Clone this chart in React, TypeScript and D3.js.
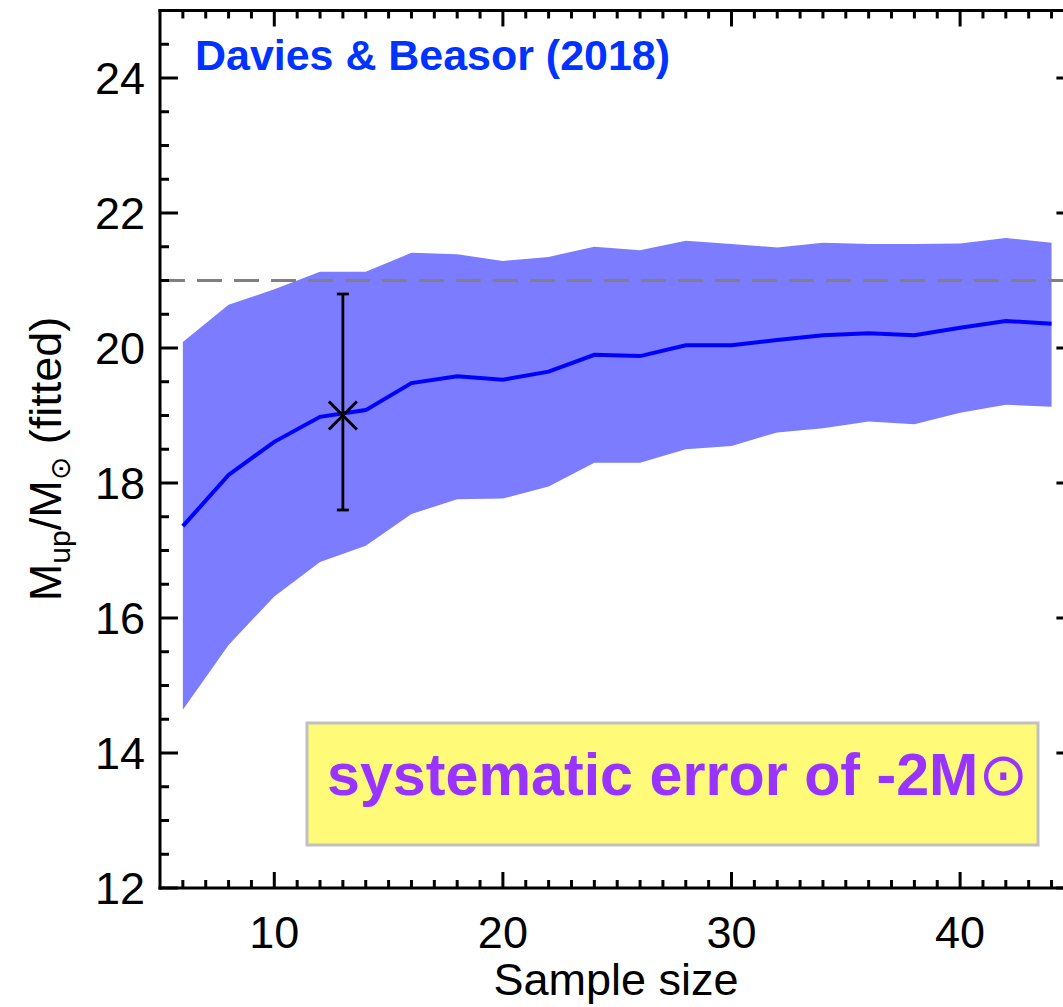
import React from "react";
import * as d3 from "d3";

const sampleSize = [6, 8, 10, 12, 14, 16, 18, 20, 22, 24, 26, 28, 30, 32, 34, 36, 38, 40, 42, 44];
const meanFit = [17.36, 18.12, 18.61, 18.98, 19.08, 19.48, 19.58, 19.53, 19.65, 19.9, 19.88, 20.04, 20.04, 20.12, 20.19, 20.22, 20.19, 20.3, 20.4, 20.36];
const upperFit = [20.09, 20.64, 20.87, 21.13, 21.13, 21.41, 21.39, 21.29, 21.35, 21.5, 21.45, 21.59, 21.54, 21.49, 21.56, 21.54, 21.54, 21.55, 21.63, 21.56];
const lowerFit = [14.64, 15.6, 16.32, 16.83, 17.07, 17.54, 17.76, 17.77, 17.95, 18.3, 18.3, 18.5, 18.55, 18.75, 18.81, 18.91, 18.87, 19.04, 19.16, 19.13];
const obsPoint = { x: 13, y: 19.0, lo: 17.6, hi: 20.8 };
const trueValue = 21;
const xTicks = [10, 20, 30, 40];
const yTicks = [12, 14, 16, 18, 20, 22, 24];

export default function App() {
  const W = 1063, H = 1007;
  const x = d3.scaleLinear().domain([5, 45]).range([160, 1074.4]);
  const y = d3.scaleLinear().domain([12, 25]).range([888, 10.5]);
  const pts = sampleSize.map((s, i) => ({ s, m: meanFit[i], u: upperFit[i], l: lowerFit[i] }));
  const area = d3.area<any>().x(d => x(d.s)).y0(d => y(d.l)).y1(d => y(d.u))(pts) || "";
  const line = d3.line<any>().x(d => x(d.s)).y(d => y(d.m))(pts) || "";
  const minorX = d3.range(6, 45, 1).filter(v => v % 10 !== 0);
  const minorY = d3.range(12.5, 25, 0.5).filter(v => v % 2 !== 0);
  const x0 = x(5), x1 = x(45), yb = y(12), yt = y(25);
  const font = "'Liberation Sans', Arial, Helvetica, sans-serif";
  const px = x(obsPoint.x), py = y(obsPoint.y);
  return (
    <svg width={W} height={H} style={{ position: "absolute", left: 0, top: 0, background: "#fff" }} fontFamily={font}>
      <defs>
        <clipPath id="plotclip">
          <rect x={x0} y={yt} width={x1 - x0} height={yb - yt} />
        </clipPath>
      </defs>
      <g clipPath="url(#plotclip)">
        <path d={area} fill="#7b7cff" />
        <line x1={x0} x2={x1} y1={y(trueValue)} y2={y(trueValue)} stroke="#808080" strokeWidth={3} strokeDasharray="25,12" />
        <path d={line} fill="none" stroke="#0000ff" strokeWidth={4} strokeLinejoin="miter" />
        <g stroke="#000" strokeWidth={2.8}>
          <line x1={px} x2={px} y1={y(obsPoint.lo)} y2={y(obsPoint.hi)} />
          <line x1={px - 6} x2={px + 6} y1={y(obsPoint.lo)} y2={y(obsPoint.lo)} />
          <line x1={px - 6} x2={px + 6} y1={y(obsPoint.hi)} y2={y(obsPoint.hi)} />
        </g>
        <g stroke="#000" strokeWidth={3}>
          <line x1={px - 14} x2={px + 14} y1={py - 14} y2={py + 14} />
          <line x1={px - 14} x2={px + 14} y1={py + 14} y2={py - 14} />
        </g>
      </g>
      <g stroke="#000" strokeWidth={3} fill="none">
        <line x1={x0} x2={x0} y1={yt - 1.5} y2={yb + 1.5} />
        <line x1={x1} x2={x1} y1={yt - 1.5} y2={yb + 1.5} />
        <line x1={x0 - 1.5} x2={x1 + 1.5} y1={yb} y2={yb} />
        <line x1={x0 - 1.5} x2={x1 + 1.5} y1={yt} y2={yt} />
        {xTicks.map(v => (
          <g key={"xt" + v}>
            <line x1={x(v)} x2={x(v)} y1={yb} y2={yb - 16} />
            <line x1={x(v)} x2={x(v)} y1={yt} y2={yt + 16} />
          </g>
        ))}
        {minorX.map(v => (
          <g key={"xm" + v}>
            <line x1={x(v)} x2={x(v)} y1={yb} y2={yb - 8} />
            <line x1={x(v)} x2={x(v)} y1={yt} y2={yt + 8} />
          </g>
        ))}
        {yTicks.map(v => (
          <g key={"yt" + v}>
            <line x1={x0} x2={x0 + 18} y1={y(v)} y2={y(v)} />
            <line x1={x1} x2={x1 - 18} y1={y(v)} y2={y(v)} />
          </g>
        ))}
        {minorY.map(v => (
          <g key={"ym" + v}>
            <line x1={x0} x2={x0 + 9} y1={y(v)} y2={y(v)} />
            <line x1={x1} x2={x1 - 9} y1={y(v)} y2={y(v)} />
          </g>
        ))}
      </g>
      <g fontSize={45} fill="#000">
        {xTicks.map(v => (
          <text key={"xl" + v} x={x(v)} y={948} textAnchor="middle">{v}</text>
        ))}
        {yTicks.map(v => (
          <text key={"yl" + v} x={145} y={y(v) + 16} textAnchor="end">{v}</text>
        ))}
      </g>
      <text x={616} y={995} textAnchor="middle" fontSize={45} fill="#000">Sample size</text>
      <text transform="translate(61,459) rotate(-90)" textAnchor="middle" fontSize={45} fill="#000">
        M<tspan fontSize={30} dy={9}>up</tspan><tspan dy={-9}>/M</tspan><tspan fontSize={28} dy={9} fontFamily="'DejaVu Sans', sans-serif">⊙</tspan><tspan dy={-9}> (fitted)</tspan>
      </text>
      <text x={195} y={70} fontSize={43} fontWeight="bold" fill="#0033ff" textLength={475} lengthAdjust="spacingAndGlyphs">Davies &amp; Beasor (2018)</text>
      <rect x={307} y={723} width={731} height={122} fill="#fffa78" stroke="#c0c0c0" strokeWidth={3} />
      <text x={327} y={795} fontSize={60} fontWeight="bold" fill="#9933ff" textLength={701} lengthAdjust="spacingAndGlyphs">systematic error of -2M<tspan fontWeight="normal" fontFamily="'DejaVu Sans', sans-serif">⊙</tspan></text>
    </svg>
  );
}
